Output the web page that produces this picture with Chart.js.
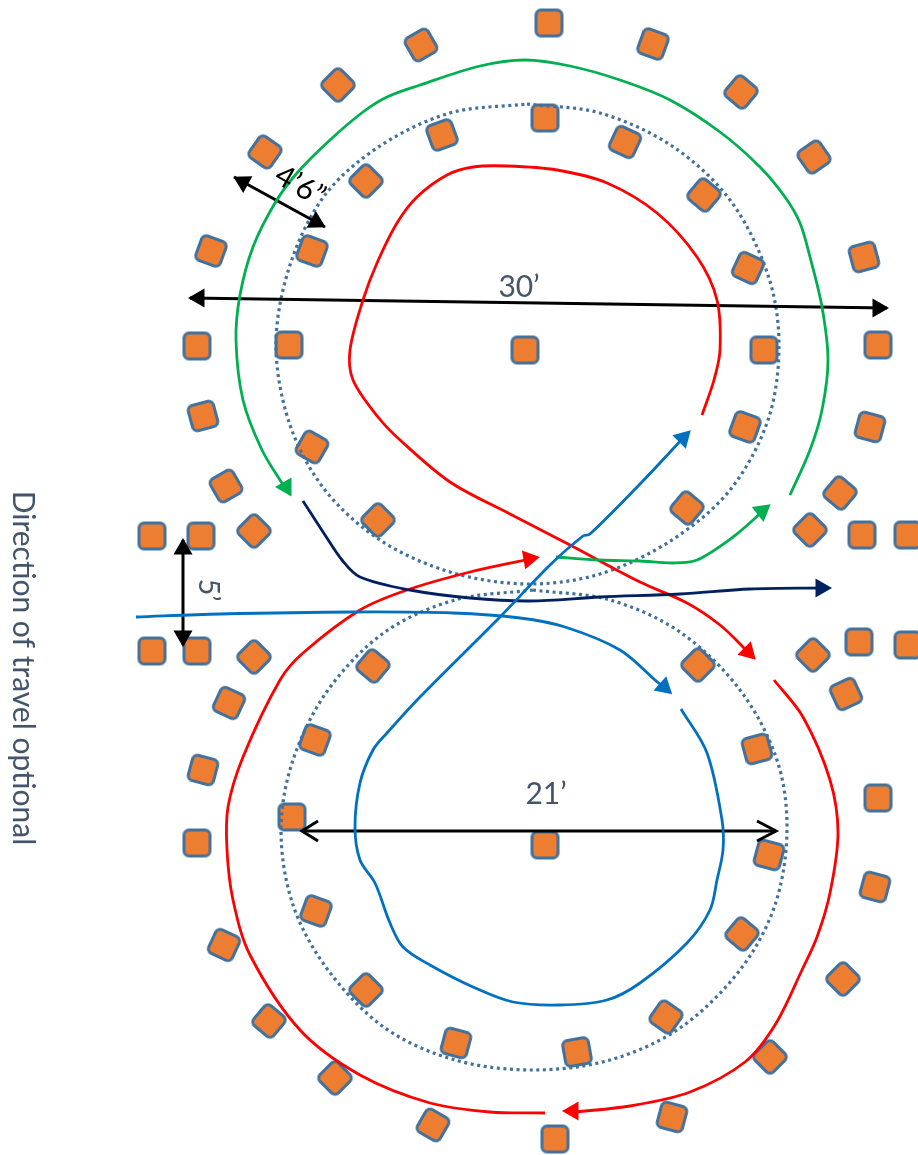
<!DOCTYPE html>
<html>
<head>
<meta charset="utf-8">
<title>Figure eight course</title>
<script src="https://cdn.jsdelivr.net/npm/chart.js@4/dist/chart.umd.min.js"></script>
<style>
  html, body { margin: 0; padding: 0; background: #fff; }
  canvas { display: block; }
</style>
</head>
<body>
<canvas id="courseChart" width="918" height="1155"></canvas>
<script>
// Course layout, values in page units

// Cones: [x, y, rotation in degrees]
const outerCones = [
  [549, 23, 0], [421, 45, -30], [653, 44, 20], [338, 85, 45], [741, 92, 40], [265, 152, 35],
  [814, 157, -35], [211, 251, 20], [864, 257, -15], [197, 346, 0], [878, 345, 0], [203, 416, -15],
  [870, 427, 15], [226, 486, -30], [840, 493, 40], [254, 531, 45], [810, 530, 45], [152, 536, 0],
  [201, 536, 0], [862, 535, 0], [908, 535, 0], [152, 651, 0], [197, 651, 0], [254, 657, 45],
  [813, 655, 45], [859, 642, 0], [908, 645, 0], [846, 694, -25], [229, 703, 25], [203, 770, 15],
  [878, 798, 0], [197, 843, 0], [875, 887, 15], [224, 945, 25], [843, 979, 45], [269, 1021, 40],
  [770, 1057, 45], [335, 1078, 45], [672, 1117, 15], [433, 1125, 30], [555, 1139, 0]
];
const innerCones = [
  [545, 118, 0], [442, 135, -20], [625, 142, 25], [366, 181, 45], [704, 195, 40], [312, 251, 20],
  [748, 268, 25], [289, 345, 0], [764, 350, 0], [525, 350, 0], [745, 427, 20], [312, 447, 30],
  [687, 508, 40], [378, 520, 45], [373, 666, 40], [698, 665, 45], [315, 740, 20], [757, 749, -15],
  [292, 817, 0], [769, 855, 15], [545, 845, 0], [316, 911, 20], [742, 934, 40], [366, 990, 45],
  [666, 1017, 35], [456, 1043, 15], [577, 1052, -10]
];

// Dotted circles
const topCircle = [
  [527, 104], [600, 113], [672, 146], [730, 200], [768, 275], [779, 345], [768, 420], [730, 490],
  [672, 540], [600, 574], [527, 584], [450, 572], [380, 540], [325, 490], [290, 425], [276, 345],
  [290, 265], [325, 195], [380, 146], [450, 113], [527, 104]
];
const bottomCircle = [
  [533, 590], [610, 600], [680, 632], [740, 690], [777, 760], [787, 830], [775, 905], [740, 970],
  [680, 1028], [610, 1060], [533, 1070], [455, 1060], [385, 1028], [328, 970], [293, 905], [281, 830],
  [293, 760], [328, 690], [385, 632], [455, 600], [533, 590]
];

// Driving lines
const redTop = [
  [702, 415], [714, 380], [720, 350], [717, 300], [697, 257], [657, 213], [607, 183], [557, 170],
  [507, 166], [473, 167], [447, 175], [417, 197], [397, 223], [377, 263], [363, 300], [350, 350],
  [353, 380], [378, 417], [400, 440], [450, 482], [510, 514], [570, 545], [640, 582], [687, 603],
  [720, 625], [743, 647], [750, 655]
];
const redRight = [
  [774, 680], [803, 717], [830, 780], [838, 833], [830, 893], [817, 937], [802, 970], [775, 1025],
  [745, 1062], [690, 1092], [630, 1106], [575, 1112]
];
const redLeft = [
  [545, 1113], [490, 1112], [430, 1103], [360, 1075], [300, 1030], [250, 955], [233, 900], [227, 850],
  [228, 807], [243, 757], [280, 680], [303, 653], [360, 610], [407, 590], [470, 572], [530, 559]
];
const greenTop = [
  [790, 495], [810, 450], [822, 410], [828, 360], [822, 307], [810, 257], [800, 223], [785, 197],
  [760, 167], [720, 132], [670, 100], [620, 80], [570, 66], [525, 60], [480, 66], [420, 85],
  [387, 97], [363, 112], [330, 140], [297, 173], [275, 203], [253, 247], [240, 295], [236, 340],
  [243, 400], [262, 450], [285, 488]
];
const greenLow = [[556, 557], [600, 560], [640, 561], [673, 563], [697, 560], [733, 537], [762, 512]];
const navyLine = [
  [303, 501], [325, 535], [342, 560], [360, 577], [410, 590], [470, 598], [530, 601], [600, 597],
  [680, 594], [750, 589], [825, 588]
];
const blueEntry = [
  [136, 617], [220, 614], [353, 612], [453, 613], [520, 618], [565, 627], [620, 650], [655, 680],
  [667, 690]
];
const blueLoop = [
  [681, 709], [707, 753], [722, 820], [723, 850], [717, 880], [710, 910], [687, 943], [640, 983],
  [607, 1000], [560, 1005], [513, 1002], [473, 987], [430, 965], [403, 947], [390, 923], [375, 883],
  [360, 860], [355, 827], [360, 783], [373, 750], [387, 733], [420, 697], [500, 617], [550, 565],
  [583, 536], [590, 534], [640, 484], [685, 436]
];

// Dimension lines
const dimCone = [[234, 177], [325, 227]];
const dim30 = [[190, 298], [887, 308]];
const dim5 = [[183, 540], [183, 645]];
const dim21 = [[302, 831], [776, 831]];
const chevronLeft = [[318, 821], [302, 831], [318, 841]];
const chevronRight = [[757, 821], [776, 831], [757, 841]];

// Arrow heads: [x, y, rotation, colour]
const arrowHeads = [
  [748, 652, 135, '#FF0000'], [573, 1111, -90, '#FF0000'], [529, 559, 80, '#FF0000'],
  [286, 487, 150, '#00B050'], [762, 511, 52, '#00B050'], [821, 588, 90, '#002060'],
  [664, 687, 132, '#0070C0'], [683, 438, 45, '#0070C0'],
  [243, 182, -61, '#000000'], [316, 222, 119, '#000000'],
  [199, 298, -90, '#000000'], [878, 308, 90, '#000000'],
  [183, 549, 0, '#000000'], [183, 636, 180, '#000000']
];

// Text: [text, x, y, rotation, colour, size]
const labels = [
  ['Direction of travel optional', 23, 668, 90, '#44546A', 30],
  ['30’', 519, 287, 0, '#44546A', 30],
  ['21’', 546, 794, 0, '#44546A', 30],
  ['5’', 208, 590, 90, '#44546A', 29],
  ['4’6”', 300, 186, 30, '#000000', 30]
];

function toPoints(list) {
  return list.map(p => ({ x: p[0], y: p[1] }));
}

function pathSet(list, color, width) {
  return {
    data: toPoints(list),
    showLine: true,
    borderColor: color,
    borderWidth: width || 2.8,
    tension: 0.33,
    pointRadius: 0
  };
}

// Rounded square used as point style for the cones
function coneImage() {
  const size = 31;
  const c = document.createElement('canvas');
  c.width = size;
  c.height = size;
  const g = c.getContext('2d');
  g.beginPath();
  g.roundRect(2.5, 2.5, size - 5, size - 5, 5);
  g.fillStyle = '#ED7D31';
  g.fill();
  g.lineWidth = 3;
  g.strokeStyle = '#41719C';
  g.stroke();
  return c;
}
const cone = coneImage();

function coneSet(list) {
  return {
    data: toPoints(list),
    pointStyle: cone,
    pointRotation: list.map(p => p[2]),
    pointRadius: 14,
    showLine: false
  };
}

function straightSet(list, width) {
  const s = pathSet(list, '#000000', width || 3);
  s.tension = 0;
  return s;
}

const dottedCircle = list => Object.assign(pathSet(list, '#41719C', 3.2), { borderDash: [3, 3.6] });

const labelPlugin = {
  id: 'courseLabels',
  afterDraw(chart) {
    const ctx = chart.ctx;
    labels.forEach(l => {
      ctx.save();
      ctx.translate(chart.scales.x.getPixelForValue(l[1]), chart.scales.y.getPixelForValue(l[2]));
      ctx.rotate(l[3] * Math.PI / 180);
      ctx.font = l[5] + 'px Lato, "Open Sans", sans-serif';
      ctx.fillStyle = l[4];
      ctx.textAlign = 'center';
      ctx.textBaseline = 'middle';
      ctx.fillText(l[0], 0, 0);
      ctx.restore();
    });
  }
};

new Chart(document.getElementById('courseChart'), {
  type: 'scatter',
  data: {
    datasets: [
      // first dataset ends up on top
      {
        data: toPoints(arrowHeads),
        pointStyle: 'triangle',
        pointRotation: arrowHeads.map(a => a[2]),
        backgroundColor: arrowHeads.map(a => a[3]),
        borderColor: arrowHeads.map(a => a[3]),
        borderWidth: 0,
        pointRadius: 11,
        showLine: false
      },
      pathSet(blueEntry, '#0070C0'),
      pathSet(blueLoop, '#0070C0'),
      pathSet(navyLine, '#002060'),
      pathSet(greenLow, '#00B050'),
      pathSet(greenTop, '#00B050'),
      pathSet(redTop, '#FF0000'),
      pathSet(redRight, '#FF0000'),
      pathSet(redLeft, '#FF0000'),
      straightSet(dimCone),
      straightSet(dim30),
      straightSet(dim5),
      straightSet(dim21),
      straightSet(chevronLeft),
      straightSet(chevronRight),
      dottedCircle(topCircle),
      dottedCircle(bottomCircle),
      coneSet(outerCones),
      coneSet(innerCones)
    ]
  },
  options: {
    responsive: false,
    animation: false,
    layout: { padding: 0, autoPadding: false },
    scales: {
      x: { display: false, min: 0, max: 918 },
      y: { display: false, min: 0, max: 1155, reverse: true }
    },
    plugins: {
      legend: { display: false },
      tooltip: { enabled: false }
    }
  },
  plugins: [labelPlugin]
});
</script>
</body>
</html>
